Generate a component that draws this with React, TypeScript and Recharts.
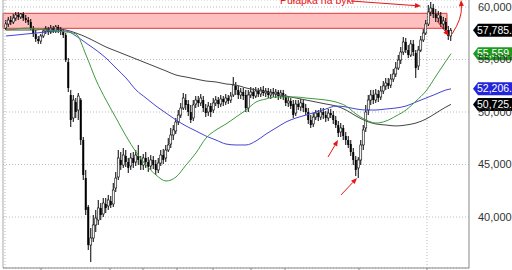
import React from 'react'
import {
  ComposedChart,
  Bar,
  Line,
  XAxis,
  YAxis,
  CartesianGrid,
  ReferenceArea,
  ReferenceLine,
  ReferenceDot,
} from 'recharts'

const FONT = "Arial, 'Liberation Sans', sans-serif"

// notowania dzienne (uproszczone), od stycznia do stycznia
const OPEN = [
  58000, 58380, 58760, 58570, 58950, 59240, 59050, 59330, 58950, 58760,
  58570, 58000, 57430, 56950, 56760, 57240, 57710, 57900, 57620, 58000,
  57710, 58100, 57810, 57620, 57330, 54760, 51620, 49430, 50950, 50190,
  51140, 47330, 43710, 40950, 37330, 38000, 39240, 39710, 40860, 40290,
  41240, 41050, 41520, 41240, 42760, 43810, 45430, 44950, 45810, 45240,
  44860, 45620, 45240, 45810, 45430, 44950, 45620, 45240, 44860, 45430,
  45050, 44480, 45140, 45900, 45620, 46380, 46950, 47810, 48190, 49050,
  49710, 50380, 51140, 50760, 50000, 49430, 50760, 51140, 50860, 51140,
  50380, 50000, 50570, 50190, 50860, 51140, 50760, 51240, 50950, 51330,
  51140, 51620, 52480, 52100, 51620, 51900, 51620, 50380, 51620, 51900,
  51520, 52000, 51710, 52100, 51810, 52000, 51620, 51900, 51710, 51900,
  51520, 51810, 51430, 50860, 51050, 50760, 49900, 50760, 50480, 50860,
  50380, 50000, 49240, 48860, 49520, 49900, 49520, 50000, 49710, 49430,
  49900, 49710, 49240, 48760, 48100, 48480, 47710, 47330, 46950, 46190,
  45430, 44670, 45430, 46860, 48480, 50190, 51140, 51620, 51140, 51710,
  51430, 52000, 52480, 52760, 52570, 53140, 53620, 54190, 54950, 55710,
  56670, 55900, 55430, 56480, 55620, 54380, 55900, 56860, 57520, 58380,
  59520, 59900, 59330, 58950, 59140, 58380, 58570, 57810, 57240,
]
const HIGH = [
  58760, 59050, 59140, 59330, 59520, 59520, 59430, 59520, 59240, 59050,
  58860, 58190, 57810, 57240, 57430, 57900, 58190, 58100, 58290, 58190,
  58290, 58290, 58100, 57900, 57520, 55140, 52100, 51620, 51330, 51810,
  51330, 47620, 44480, 41140, 38950, 40190, 40670, 41620, 41330, 41810,
  41810, 42100, 42000, 43240, 44290, 46380, 46190, 46570, 46380, 45620,
  46100, 46190, 46380, 46860, 45810, 46000, 46190, 45710, 45900, 45810,
  45430, 45620, 46380, 46480, 46860, 47520, 48480, 48760, 49430, 50190,
  50860, 51810, 51710, 51140, 50670, 51140, 51520, 51520, 51710, 51520,
  50760, 50950, 50860, 51330, 51520, 51430, 51620, 51520, 51710, 51620,
  51900, 53330, 52860, 52480, 52290, 52290, 52100, 52100, 52380, 52290,
  52380, 52290, 52380, 52480, 52290, 52290, 52190, 52290, 52190, 52100,
  52100, 52100, 51710, 51430, 51330, 51140, 51140, 51140, 51240, 51140,
  50760, 50380, 49710, 49900, 50190, 50190, 50380, 50380, 50100, 50290,
  50290, 50100, 49620, 49140, 48950, 48760, 48100, 47710, 47330, 46570,
  45810, 45710, 47330, 48760, 50670, 51620, 52100, 52100, 52190, 52100,
  52480, 52950, 53240, 53240, 53620, 54100, 54760, 55430, 56190, 57140,
  57050, 56380, 56860, 56860, 55900, 56290, 57240, 57900, 58760, 60190,
  60480, 60290, 59810, 59620, 59520, 59050, 58950, 58190, 58000,
]
const LOW = [
  57810, 58100, 58290, 58380, 58670, 58760, 58860, 58670, 58480, 58290,
  57810, 57140, 56670, 56480, 56480, 57050, 57430, 57330, 57430, 57520,
  57520, 57520, 57330, 57050, 54760, 51900, 48570, 49050, 49430, 49240,
  46860, 43520, 40190, 36860, 35710, 37620, 38570, 39240, 39710, 40000,
  40380, 40670, 40860, 40950, 42380, 43520, 44480, 44670, 44760, 44190,
  44480, 44670, 44860, 44950, 44480, 44480, 44670, 44290, 44480, 44570,
  44000, 44190, 44860, 45050, 45240, 46190, 46570, 47330, 47900, 48760,
  49430, 50190, 50190, 49620, 48950, 49140, 50380, 50480, 50570, 50000,
  49520, 49620, 49520, 49900, 50570, 50380, 50480, 50570, 50670, 50760,
  50860, 51430, 51620, 51240, 51240, 51140, 50000, 50000, 51330, 51240,
  51330, 51430, 51430, 51520, 51430, 51330, 51240, 51430, 51330, 51140,
  51240, 51140, 50570, 50480, 50290, 49430, 49620, 50190, 50100, 50000,
  49710, 48860, 48480, 48570, 49240, 49140, 49240, 49330, 49050, 49140,
  49430, 48860, 48480, 47620, 47620, 47330, 46860, 46570, 45810, 44950,
  43900, 43710, 44950, 46380, 48100, 49710, 50670, 50760, 50860, 50950,
  51140, 51710, 52100, 52190, 52290, 52860, 53330, 54000, 54570, 55430,
  55620, 55140, 55240, 55330, 53240, 54000, 55710, 56670, 57330, 58190,
  59140, 58950, 58570, 58570, 58100, 57900, 57520, 56860, 56760,
]
const CLOSE = [
  58380, 58760, 58570, 58950, 59240, 59050, 59330, 58950, 58760, 58570,
  58000, 57430, 56950, 56760, 57240, 57710, 57900, 57620, 58000, 57710,
  58100, 57810, 57620, 57330, 54950, 52290, 49240, 51140, 50000, 51520,
  47330, 44000, 40670, 37330, 38000, 39240, 39900, 40860, 40190, 41330,
  40860, 41620, 41140, 42570, 43710, 45620, 44950, 45900, 45240, 44670,
  45620, 45140, 45900, 45430, 44950, 45620, 45240, 44760, 45430, 44950,
  44480, 45140, 45900, 45430, 46380, 46860, 47810, 48290, 49050, 49710,
  50380, 51330, 50670, 50000, 49240, 50670, 51140, 50860, 51330, 50380,
  49900, 50570, 50000, 50860, 51140, 50760, 51240, 50950, 51330, 51050,
  51520, 52570, 52100, 51620, 51900, 51520, 50380, 51620, 51900, 51520,
  52000, 51710, 52100, 51810, 52000, 51620, 51900, 51710, 51900, 51520,
  51810, 51430, 50860, 51050, 50570, 49710, 50760, 50480, 50860, 50380,
  50000, 49240, 48760, 49520, 49900, 49520, 50000, 49710, 49430, 49900,
  49710, 49240, 48760, 48000, 48480, 47710, 47330, 46860, 46190, 45430,
  44480, 45430, 46860, 48290, 50000, 51140, 51620, 51140, 51710, 51330,
  52000, 52480, 52760, 52480, 53140, 53620, 54190, 54950, 55710, 56670,
  55900, 55430, 56480, 55710, 54190, 55900, 56860, 57520, 58380, 59520,
  59900, 59330, 58950, 59240, 58380, 58670, 57810, 57240, 57785.4,
]

// średnie kroczące, odczytane co 4 sesje
const MA_IDX = [
  0, 4, 8, 12, 16, 20, 24, 28, 32, 36, 40, 44, 48, 52, 56, 60, 64, 68, 72, 76, 80, 84, 88,
  92, 96, 100, 104, 108, 112, 116, 120, 124, 128, 132, 136, 140, 144, 148, 152, 156, 160,
  164, 168, 172, 176, 178,
]
const MA50 = [
  57810, 57900, 58000, 57900, 57810, 57710, 57620, 57430, 55430, 53050, 51140, 49430,
  47710, 46190, 44950, 44000, 43430, 43810, 44950, 46100, 47520, 48290, 48860, 49520,
  50190, 50950, 51240, 51430, 51430, 51430, 51330, 51240, 51140, 50950, 50570, 49810,
  49240, 48950, 49140, 49620, 50190, 51050, 52000, 53430, 54860, 55559.7,
]
const MA100 = [
  57240, 57330, 57430, 57520, 57620, 57710, 57710, 57240, 56570, 55900, 55140, 54190,
  53240, 52100, 51330, 50570, 49900, 49240, 48670, 48190, 47710, 47330, 46950, 46860,
  46860, 47240, 47900, 48480, 49050, 49430, 49710, 50000, 50290, 50570, 50480, 50290,
  50190, 50190, 50290, 50380, 50570, 50950, 51330, 51710, 52100, 52206.3,
]
const MA200 = [
  57810, 57810, 57810, 57810, 57900, 57900, 57810, 57520, 57140, 56670, 56190, 55810,
  55430, 55050, 54670, 54290, 53910, 53520, 53330, 53140, 52950, 52860, 52670, 52570,
  52290, 52100, 51900, 51710, 51520, 51330, 51140, 50950, 50760, 50570, 50190, 49620,
  49140, 48860, 48760, 48670, 48760, 48950, 49330, 49900, 50480, 50725.8,
]

const TICK_POS = [-0.4, 14, 41.6, 54.8, 68.4, 82.8, 98, 111.6, 141.2, 168.4]
const TICK_LABELS = ['sty', 'lut', 'kwi', 'maj', 'cze', 'lip', 'sie', 'wrz', 'lis', 'sty']
const YEAR_LINES = [-0.4, 168.4]
const Y_TICKS = [40000, 45000, 50000, 55000, 60000]

const X_DOMAIN = [-1.2, 185.2]
const Y_DOMAIN = [35143, 60667]

const TRAP_LOW = 57970
const TRAP_HIGH = 59400
const TRAP_END = 176.4
const NOTE_TEXT = 'Pułapka na byki'
const NOTE_AT = [109.6, 60290]

// [od i, od wartości, do i, do wartości, wygięcie]
const ARROWS = [
  [138, 60571, 166, 60095, 0],
  [172.4, 58670, 177.2, 57240, 0],
  [128.8, 45710, 132.8, 47330, 0],
  [134, 42100, 140.4, 43710, 0],
  [178.4, 57430, 182, 60667, 1],
]

const RED = '#e81515'

const dane = OPEN.map((o, i) => {
  const k = MA_IDX.indexOf(i)
  return {
    i,
    open: o,
    high: HIGH[i],
    low: LOW[i],
    close: CLOSE[i],
    zakres: [LOW[i], HIGH[i]],
    ma50: k >= 0 ? MA50[k] : undefined,
    ma100: k >= 0 ? MA100[k] : undefined,
    ma200: k >= 0 ? MA200[k] : undefined,
  }
})

const Swieca = (props: any) => {
  const { x, y, width, height, payload } = props
  const { open, close, high, low } = payload
  const top = Math.min(y, y + height)
  const h = Math.abs(height)
  const k = high > low ? h / (high - low) : 0
  const cx = x + width / 2
  const bTop = top + (high - Math.max(open, close)) * k
  const bH = Math.max(1, Math.abs(open - close) * k)
  const wzrost = close >= open
  return (
    <g>
      <line x1={cx} x2={cx} y1={top} y2={top + h} stroke="#000" strokeWidth={1} />
      <rect
        x={cx - 1}
        y={bTop}
        width={2}
        height={bH}
        fill={wzrost ? '#fff' : '#000'}
        stroke="#000"
        strokeWidth={wzrost ? 0.6 : 0}
      />
    </g>
  )
}

const strzalka = (wygiecie: number) => (p: any) => {
  const { x1, y1, x2, y2 } = p
  const dx = x2 - x1
  const dy = y2 - y1
  const len = Math.sqrt(dx * dx + dy * dy) || 1
  const ux = dx / len
  const uy = dy / len
  // punkt kontrolny dla łuku
  const cx = (x1 + x2) / 2 + uy * -6 * wygiecie
  const cy = (y1 + y2) / 2 - ux * -6 * wygiecie
  let tx = ux
  let ty = uy
  if (wygiecie) {
    const l2 = Math.sqrt((x2 - cx) ** 2 + (y2 - cy) ** 2) || 1
    tx = (x2 - cx) / l2
    ty = (y2 - cy) / l2
  }
  const bx = x2 - tx * 6
  const by = y2 - ty * 6
  const d = wygiecie ? `M${x1},${y1} Q${cx},${cy} ${bx},${by}` : `M${x1},${y1} L${bx},${by}`
  return (
    <g>
      <path d={d} stroke={RED} strokeWidth={1} fill="none" />
      <polygon
        points={`${x2},${y2} ${bx - ty * 2.5},${by + tx * 2.5} ${bx + ty * 2.5},${by - tx * 2.5}`}
        fill={RED}
      />
    </g>
  )
}

const etykieta = (wartosc: number, kolor: string) => (p: any) => {
  const vb = p.viewBox
  const x = vb.x + vb.width + 4
  const y = vb.y
  const tekst = wartosc.toLocaleString('en-US', { minimumFractionDigits: 1, maximumFractionDigits: 1 })
  return (
    <g>
      <path
        d={`M${x},${y} L${x + 5},${y - 6.5} L${x + 60},${y - 6.5} L${x + 60},${y + 6.5} L${x + 5},${y + 6.5} Z`}
        fill={kolor}
      />
      <text x={x + 4} y={y + 3.6} fill="#fff" fontSize={10.5} fontFamily={FONT}>
        {tekst}
      </text>
    </g>
  )
}

const ostatni = OPEN.length - 1
const ZNACZNIKI: [number, string][] = [
  [CLOSE[ostatni], '#000'],
  [MA50[MA50.length - 1], '#1f9a1f'],
  [MA100[MA100.length - 1], '#2424dd'],
  [MA200[MA200.length - 1], '#000'],
]

export default function App() {
  return (
    <div style={{ position: 'absolute', left: 0, top: 0, width: 512, height: 270, overflow: 'hidden', background: '#fff' }}>
      <ComposedChart width={512} height={288} data={dane} margin={{ top: 0, right: 0, bottom: 0, left: 3 }}>
        <CartesianGrid vertical={false} stroke="#bbb" strokeDasharray="1 2" />
        <XAxis
          dataKey="i"
          type="number"
          domain={X_DOMAIN}
          allowDataOverflow
          ticks={TICK_POS}
          tickFormatter={(v) => TICK_LABELS[TICK_POS.indexOf(v)] ?? ''}
          height={20}
          tickSize={4}
          stroke="#888"
          tick={{ fill: '#333', fontSize: 11, fontFamily: FONT }}
        />
        <YAxis
          orientation="right"
          width={43}
          domain={Y_DOMAIN}
          allowDataOverflow
          ticks={Y_TICKS}
          tickLine={false}
          tickSize={0}
          tickMargin={9}
          stroke="#888"
          tickFormatter={(v) => Number(v).toLocaleString('en-US')}
          tick={{ fill: '#333', fontSize: 11, fontFamily: FONT }}
        />
        <ReferenceLine x={X_DOMAIN[0]} stroke="#aaa" />
        {YEAR_LINES.map((x) => (
          <ReferenceLine key={x} x={x} stroke="#bbb" strokeDasharray="1 2" />
        ))}
        <ReferenceArea
          x1={X_DOMAIN[0]}
          x2={TRAP_END}
          y1={TRAP_LOW}
          y2={TRAP_HIGH}
          fill="#ff7f7f"
          fillOpacity={0.5}
          stroke="#e03a3a"
          strokeOpacity={1}
        />
        <Bar dataKey="zakres" barSize={2} shape={<Swieca />} isAnimationActive={false} />
        <Line type="monotone" dataKey="ma200" stroke="#444" strokeWidth={1} dot={false} connectNulls isAnimationActive={false} />
        <Line type="monotone" dataKey="ma100" stroke="#4545d5" strokeWidth={1} dot={false} connectNulls isAnimationActive={false} />
        <Line type="monotone" dataKey="ma50" stroke="#3f9a3f" strokeWidth={1} dot={false} connectNulls isAnimationActive={false} />
        {ARROWS.map((a, n) => (
          <ReferenceLine
            key={n}
            segment={[{ x: a[0], y: a[1] }, { x: a[2], y: a[3] }]}
            ifOverflow="visible"
            shape={strzalka(a[4])}
          />
        ))}
        <ReferenceDot
          x={NOTE_AT[0]}
          y={NOTE_AT[1]}
          ifOverflow="visible"
          shape={(p: any) => (
            <text x={p.cx} y={p.cy} fill={RED} fontSize={10.5} fontFamily={FONT}>
              {NOTE_TEXT}
            </text>
          )}
        />
        {ZNACZNIKI.map(([v, kolor]) => (
          <ReferenceLine key={v} y={v} stroke="none" ifOverflow="visible" label={etykieta(v, kolor)} />
        ))}
      </ComposedChart>
    </div>
  )
}
